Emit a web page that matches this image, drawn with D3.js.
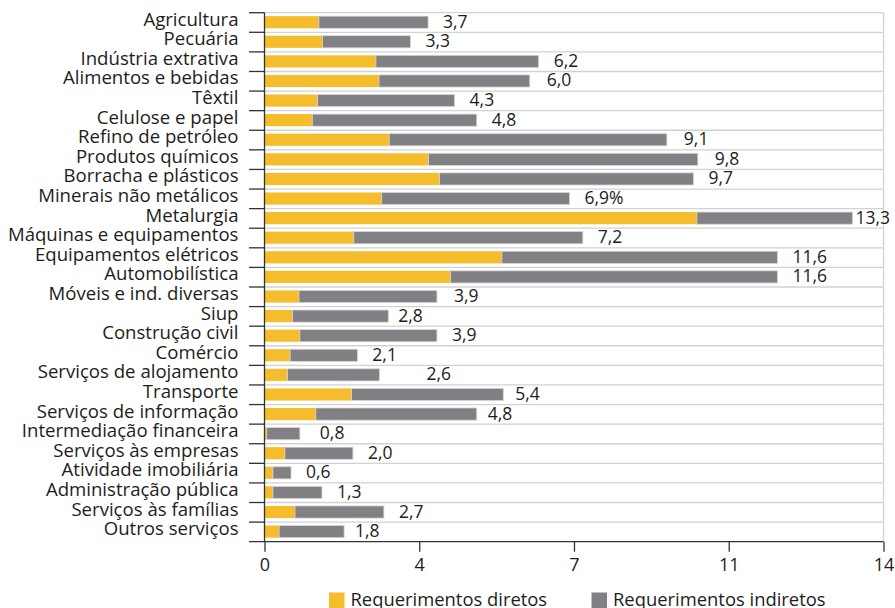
<!DOCTYPE html>
<html>
<head>
<meta charset="utf-8">
<script src="https://cdn.jsdelivr.net/npm/d3@7"></script>
<style>
  html, body { margin: 0; padding: 0; background: #fff; }
  svg { display: block; }
  text { font-family: "Open Sans", "Noto Sans", sans-serif; fill: #1d1d1b; }
</style>
</head>
<body>
<svg id="chart" width="895" height="608"></svg>
<script>
// ---- data ----
const categories = [
  "Agricultura", "Pecuária", "Indústria extrativa", "Alimentos e bebidas", "Têxtil",
  "Celulose e papel", "Refino de petróleo", "Produtos químicos", "Borracha e plásticos",
  "Minerais não metálicos", "Metalurgia", "Máquinas e equipamentos", "Equipamentos elétricos",
  "Automobilística", "Móveis e ind. diversas", "Siup", "Construção civil", "Comércio",
  "Serviços de alojamento", "Transporte", "Serviços de informação", "Intermediação financeira",
  "Serviços às empresas", "Atividade imobiliária", "Administração pública",
  "Serviços às famílias", "Outros serviços"
];
const totalValues = [3.7, 3.3, 6.2, 6.0, 4.3, 4.8, 9.1, 9.8, 9.7, 6.9, 13.3, 7.2, 11.6, 11.6,
  3.9, 2.8, 3.9, 2.1, 2.6, 5.4, 4.8, 0.8, 2.0, 0.6, 1.3, 2.7, 1.8];
const directValues = [1.23, 1.31, 2.52, 2.59, 1.20, 1.08, 2.82, 3.71, 3.96, 2.65, 9.78, 2.02, 5.37,
  4.21, 0.78, 0.63, 0.80, 0.58, 0.52, 1.97, 1.16, 0.05, 0.46, 0.19, 0.19, 0.69, 0.33];
const indirectValues = totalValues.map((t, i) => +(t - directValues[i]).toFixed(2));
const valueLabels = ["3,7", "3,3", "6,2", "6,0", "4,3", "4,8", "9,1", "9,8", "9,7", "6,9%", "13,3",
  "7,2", "11,6", "11,6", "3,9", "2,8", "3,9", "2,1", "2,6", "5,4", "4,8", "0,8", "2,0", "0,6",
  "1,3", "2,7", "1,8"];
const seriesNames = ["Requerimentos diretos", "Requerimentos indiretos"];
const tickValues = [0, 3.5, 7, 10.5, 14];
const tickLabels = ["0", "4", "7", "11", "14"];

// ---- layout / style ----
const colors = ["#F5BC2B", "#818185"];
const mLeft = 264.5, mRight = 883.5, mTop = 12.7, mBottom = 541.7;
const labelNudge = { "Metalurgia": -12, "Serviços de alojamento": 32, "Siup": -5,
  "Intermediação financeira": 5, "Transporte": -3, "Serviços de informação": -4, "Outros serviços": -4,
  "Alimentos e bebidas": 2, "Refino de petróleo": 2, "Produtos químicos": 2, "Móveis e ind. diversas": 2 };

const svg = d3.select("#chart");
const x = d3.scaleLinear().domain([0, 14]).range([mLeft, mRight]);
const y = d3.scaleBand().domain(categories).range([mTop, mBottom]).padding(0);
const bw = y.bandwidth();

// gridlines at row boundaries
const bounds = categories.map(c => y(c));
svg.append("g").selectAll("line").data(bounds).join("line")
  .attr("x1", mLeft).attr("x2", mRight)
  .attr("y1", d => d).attr("y2", d => d)
  .attr("stroke", "#d2d2d2").attr("stroke-width", 1.3);
// right border
svg.append("line").attr("x1", mRight).attr("x2", mRight).attr("y1", mTop).attr("y2", mBottom)
  .attr("stroke", "#d2d2d2").attr("stroke-width", 1.3);

// stacked bars
const stackData = categories.map((c, i) => ({ cat: c, d: directValues[i], ind: indirectValues[i] }));
const stacked = d3.stack().keys(["d", "ind"])(stackData);
svg.append("g").selectAll("g").data(stacked).join("g")
  .attr("fill", (s, i) => colors[i])
  .attr("stroke", (s, i) => i === 1 ? "#d6d6d6" : "none")
  .attr("stroke-width", 0.8)
  .selectAll("rect").data(s => s).join("rect")
  .attr("x", d => x(d[0]))
  .attr("y", d => y(d.data.cat) + bw * 0.175)
  .attr("width", d => Math.max(0, x(d[1]) - x(d[0])))
  .attr("height", bw * 0.62);

// value labels
svg.append("g").selectAll("text").data(categories).join("text")
  .attr("x", (c, i) => x(totalValues[i]) + 15 + (labelNudge[c] || 0))
  .attr("y", c => y(c) + bw * 0.175 + bw * 0.31 + 5.5)
  .attr("font-size", 17.5)
  .text((c, i) => valueLabels[i]);

// left axis (category labels)
const yAxis = d3.axisLeft(y).tickSize(0).tickPadding(26);
const gy = svg.append("g").attr("transform", `translate(${mLeft},0)`).call(yAxis);
gy.select(".domain").remove();
gy.selectAll("text").attr("font-size", 18.6).attr("dy", null).attr("y", -bw / 2 + 13)
  .style("font-family", '"Open Sans", "Noto Sans", sans-serif').attr("fill", "#1d1d1b");
// row boundary ticks
svg.append("g").selectAll("line").data(bounds).join("line")
  .attr("x1", mLeft - 15.5).attr("x2", mLeft)
  .attr("y1", d => d).attr("y2", d => d)
  .attr("stroke", "#333").attr("stroke-width", 1.3);
// left axis line
svg.append("line").attr("x1", mLeft).attr("x2", mLeft).attr("y1", mTop).attr("y2", mBottom)
  .attr("stroke", "#333").attr("stroke-width", 1.3);

// bottom axis
const xAxis = d3.axisBottom(x).tickValues(tickValues)
  .tickFormat((d, i) => tickLabels[i]).tickSize(10).tickSizeOuter(0).tickPadding(7);
const gx = svg.append("g").attr("transform", `translate(0,${mBottom})`).call(xAxis);
gx.select(".domain").attr("stroke", "#333").attr("stroke-width", 1.3)
  .attr("d", `M${mLeft - 15.5},0H${mRight}`);
gx.selectAll(".tick line").attr("stroke", "#333").attr("stroke-width", 1.3);
gx.selectAll(".tick text").attr("font-size", 18).attr("fill", "#1d1d1b")
  .style("font-family", '"Open Sans", "Noto Sans", sans-serif');

// legend
const legendX = [329, 591.5];
const lg = svg.append("g").selectAll("g").data(seriesNames).join("g")
  .attr("transform", (d, i) => `translate(${legendX[i]},592.5)`);
lg.append("rect").attr("width", 15.5).attr("height", 15.5).attr("fill", (d, i) => colors[i]);
lg.append("text").attr("x", 21.5).attr("y", 13.5).attr("font-size", 18.4).text(d => d);
</script>
</body>
</html>
